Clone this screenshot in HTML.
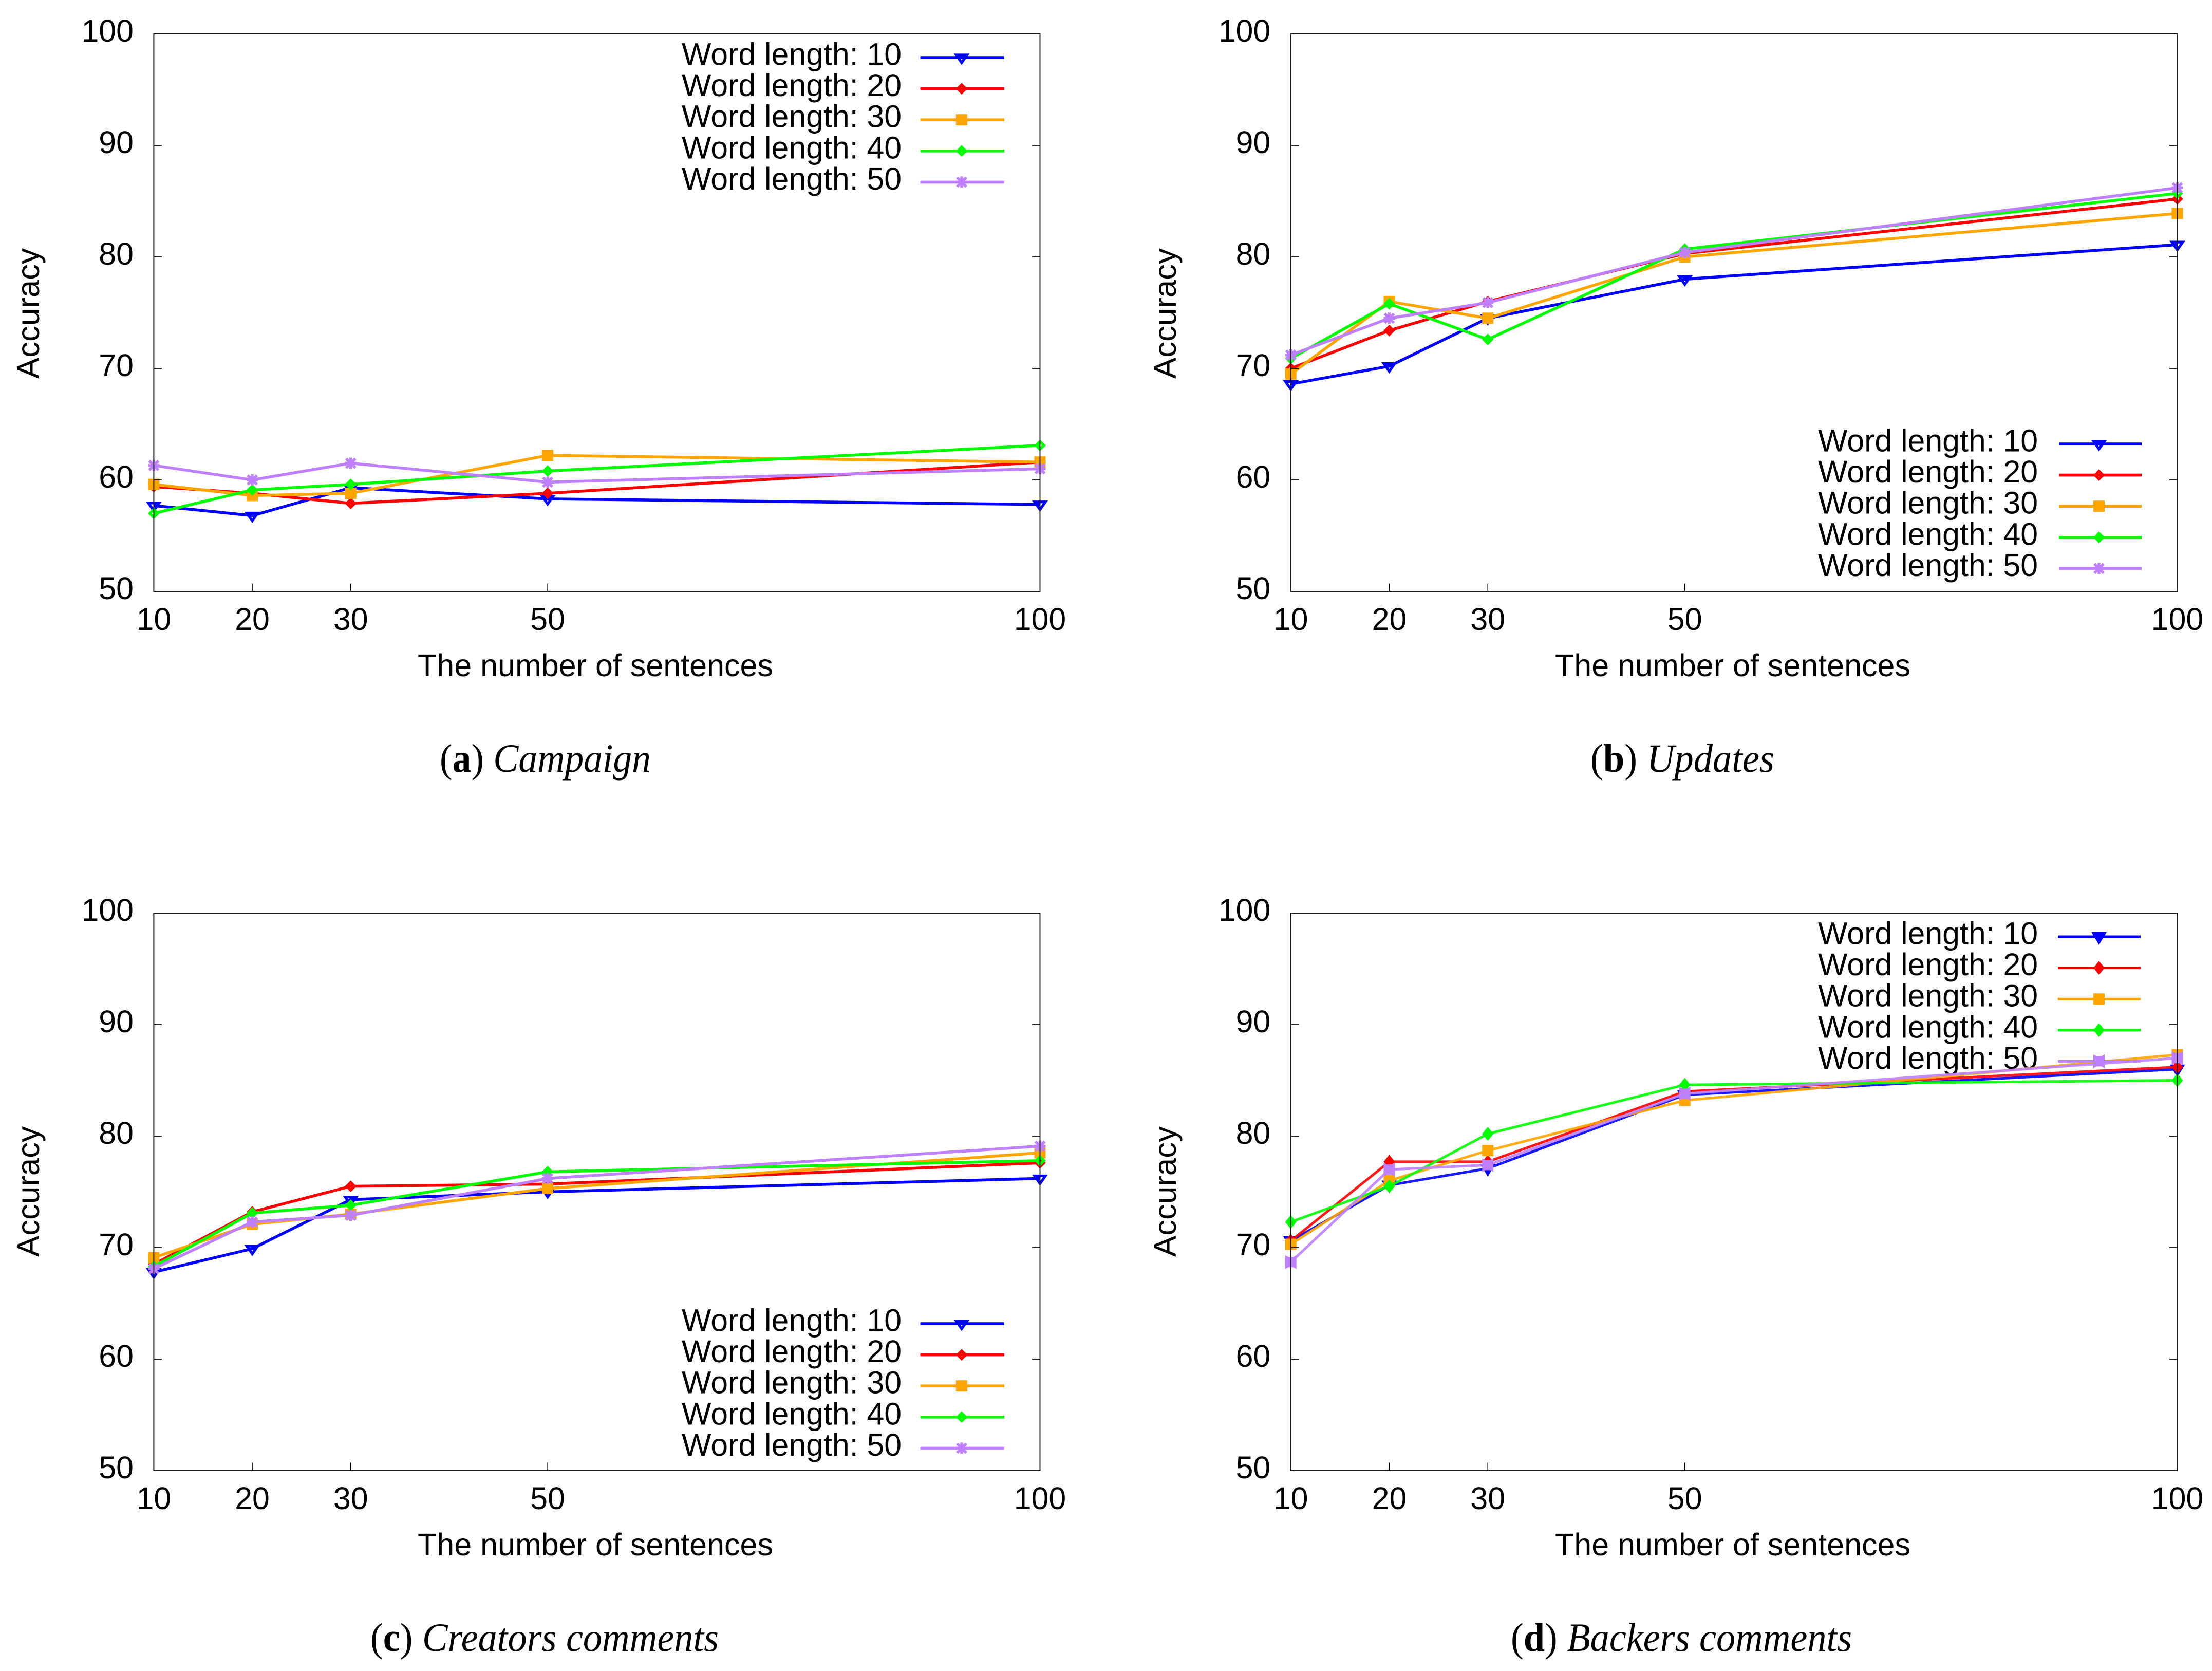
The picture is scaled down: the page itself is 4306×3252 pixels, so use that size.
<!DOCTYPE html>
<html lang="en">
<head>
<meta charset="utf-8">
<title>Accuracy by number of sentences and word length</title>
<style>
html,body{margin:0;padding:0;background:#fff;}
svg{display:block;}
text{font-family:"Liberation Sans",Arial,sans-serif;font-size:60.8px;fill:#000;}
.caption{font-family:"Liberation Serif","Times New Roman",serif;font-size:78px;}
</style>
</head>
<body>
<svg id="figure" xmlns="http://www.w3.org/2000/svg" width="4306" height="3252" viewBox="0 0 4306 3252">
  <rect x="0" y="0" width="4306" height="3252" fill="#ffffff"/>

  <g id="panel-a">
    <text transform="translate(76 610) rotate(-90)" text-anchor="middle" textLength="254" lengthAdjust="spacingAndGlyphs">Accuracy</text>
    <text x="813" y="1316" textLength="692" lengthAdjust="spacingAndGlyphs">The number of sentences</text>
    <text class="caption" x="856" y="1502" textLength="411" lengthAdjust="spacingAndGlyphs">(<tspan font-weight="bold">a</tspan>) <tspan font-style="italic">Campaign</tspan></text>
  </g>

  <g id="panel-b">
    <text transform="translate(2289 610) rotate(-90)" text-anchor="middle" textLength="254" lengthAdjust="spacingAndGlyphs">Accuracy</text>
    <text x="3027" y="1316" textLength="692" lengthAdjust="spacingAndGlyphs">The number of sentences</text>
    <text class="caption" x="3096" y="1502" textLength="358" lengthAdjust="spacingAndGlyphs">(<tspan font-weight="bold">b</tspan>) <tspan font-style="italic">Updates</tspan></text>
  </g>

  <g id="panel-c">
    <text transform="translate(76 2319) rotate(-90)" text-anchor="middle" textLength="254" lengthAdjust="spacingAndGlyphs">Accuracy</text>
    <text x="813" y="3027" textLength="692" lengthAdjust="spacingAndGlyphs">The number of sentences</text>
    <text class="caption" x="721" y="3213" textLength="678" lengthAdjust="spacingAndGlyphs">(<tspan font-weight="bold">c</tspan>) <tspan font-style="italic">Creators comments</tspan></text>
  </g>

  <g id="panel-d">
    <text transform="translate(2289 2319) rotate(-90)" text-anchor="middle" textLength="254" lengthAdjust="spacingAndGlyphs">Accuracy</text>
    <text x="3027" y="3027" textLength="692" lengthAdjust="spacingAndGlyphs">The number of sentences</text>
    <text class="caption" x="2941" y="3213" textLength="664" lengthAdjust="spacingAndGlyphs">(<tspan font-weight="bold">d</tspan>) <tspan font-style="italic">Backers comments</tspan></text>
  </g>
</svg>

<script>
/* ---------- chart data ---------- */
const sentenceCounts = [10, 20, 30, 50, 100];
const xTickLabels = ['10', '20', '30', '50', '100'];
const yTickValues = [50, 60, 70, 80, 90, 100];
const yTickLabels = ['50', '60', '70', '80', '90', '100'];
const seriesLabels = ['Word length: 10', 'Word length: 20', 'Word length: 30', 'Word length: 40', 'Word length: 50'];

const campaign10 = [57.7, 56.8, 59.3, 58.3, 57.8];
const campaign20 = [59.4, 58.8, 57.9, 58.8, 61.6];
const campaign30 = [59.6, 58.6, 58.8, 62.2, 61.6];
const campaign40 = [57.0, 59.1, 59.6, 60.8, 63.1];
const campaign50 = [61.3, 60.0, 61.5, 59.8, 61.0];

const updates10 = [68.6, 70.2, 74.5, 78.0, 81.1];
const updates20 = [70.0, 73.4, 76.0, 80.3, 85.2];
const updates30 = [69.5, 76.0, 74.5, 80.0, 83.9];
const updates40 = [70.9, 75.8, 72.6, 80.7, 85.7];
const updates50 = [71.2, 74.5, 75.9, 80.4, 86.2];

const creators10 = [67.8, 69.9, 74.3, 75.0, 76.2];
const creators20 = [68.5, 73.2, 75.5, 75.7, 77.6];
const creators30 = [69.1, 72.1, 73.0, 75.3, 78.5];
const creators40 = [68.3, 73.1, 73.8, 76.8, 77.8];
const creators50 = [68.1, 72.3, 72.9, 76.2, 79.1];

const backers10 = [70.6, 75.6, 77.1, 83.7, 86.0];
const backers20 = [70.6, 77.7, 77.7, 84.0, 86.2];
const backers30 = [70.3, 76.0, 78.7, 83.2, 87.3];
const backers40 = [72.3, 75.5, 80.2, 84.6, 85.0];
const backers50 = [68.7, 77.0, 77.4, 83.8, 87.0];

/* ---------- styling / layout (not data) ---------- */
const colors = ['#0000ff', '#ff0000', '#ffa500', '#00ff00', '#bf80ff'];
const shapes = ['triangle', 'diamond', 'square', 'diamond', 'star'];
const SVGNS = 'http://www.w3.org/2000/svg';

const panels = [
  {id: 'panel-a', name: 'campaign', left: 299.4, right: 2024.5, top: 66, bottom: 1151, legendTop: 112, legendTextX: 1327, legendX0: 1791.5, legendX1: 1955, legendMark: 1872, filled: false, lineWidth: 5.6,
   series: [campaign10, campaign20, campaign30, campaign40, campaign50]},
  {id: 'panel-b', name: 'updates', left: 2512.7, right: 4238.5, top: 66, bottom: 1151, legendTop: 864, legendTextX: 3539, legendX0: 4008, legendX1: 4169, legendMark: 4086, filled: false, lineWidth: 5.6,
   series: [updates10, updates20, updates30, updates40, updates50]},
  {id: 'panel-c', name: 'creators', left: 299.4, right: 2024.5, top: 1777, bottom: 2862, legendTop: 2576, legendTextX: 1327, legendX0: 1791.5, legendX1: 1955, legendMark: 1872, filled: false, lineWidth: 5.6,
   series: [creators10, creators20, creators30, creators40, creators50]},
  {id: 'panel-d', name: 'backers', left: 2512.7, right: 4238.5, top: 1777, bottom: 2862, legendTop: 1823, legendTextX: 3539, legendX0: 4006, legendX1: 4167, legendMark: 4086, filled: true, lineWidth: 5,
   series: [backers10, backers20, backers30, backers40, backers50]}
];

function mk(tag, attrs, parent) {
  const el = document.createElementNS(SVGNS, tag);
  for (const k in attrs) el.setAttribute(k, attrs[k]);
  parent.appendChild(el);
  return el;
}

/* axis functions */
function xScale(p, v) {
  const lo = sentenceCounts[0], hi = sentenceCounts[sentenceCounts.length - 1];
  return p.left + (v - lo) / (hi - lo) * (p.right - p.left);
}
function yScale(p, v) {
  const lo = yTickValues[0], hi = yTickValues[yTickValues.length - 1];
  return p.bottom - (v - lo) / (hi - lo) * (p.bottom - p.top);
}

function markerGeometry(shape, filled, cx, cy, color) {
  if (shape === 'square') {
    return {tag: 'rect', attrs: {x: cx - 11, y: cy - 11, width: 22, height: 22, fill: color}};
  }
  if (shape === 'diamond') {
    if (filled) {
      return {tag: 'polygon', attrs: {points: [cx, cy - 13.5, cx + 11, cy, cx, cy + 13.5, cx - 11, cy].join(' '), fill: color}};
    }
    return {tag: 'polygon', attrs: {points: [cx, cy - 7.5, cx + 7.5, cy, cx, cy + 7.5, cx - 7.5, cy].join(' '), fill: 'none', stroke: color, 'stroke-width': 5.5, 'stroke-linejoin': 'miter'}};
  }
  if (shape === 'triangle') {
    if (filled) {
      return {tag: 'polygon', attrs: {points: [cx - 15, cy - 9, cx + 15, cy - 9, cx, cy + 16].join(' '), fill: color}};
    }
    return {tag: 'polygon', attrs: {points: [cx - 10.5, cy - 5, cx + 10.5, cy - 5, cx, cy + 10].join(' '), fill: 'none', stroke: color, 'stroke-width': 5.2, 'stroke-linejoin': 'miter'}};
  }
  /* star */
  if (filled) {
    const d = 'M' + (cx - 11) + ' ' + (cy - 13.5) + 'L' + (cx - 5) + ' ' + (cy - 10) + 'L' + (cx + 5) + ' ' + (cy - 10) + 'L' + (cx + 11) + ' ' + (cy - 13.5) +
              'L' + (cx + 11) + ' ' + (cy + 13.5) + 'L' + (cx + 5) + ' ' + (cy + 10) + 'L' + (cx - 5) + ' ' + (cy + 10) + 'L' + (cx - 11) + ' ' + (cy + 13.5) + 'Z';
    return {tag: 'path', attrs: {d: d, fill: color}};
  }
  const a = 9;
  const d = 'M' + (cx - a) + ' ' + (cy - a) + 'L' + (cx + a) + ' ' + (cy + a) +
            'M' + (cx + a) + ' ' + (cy - a) + 'L' + (cx - a) + ' ' + (cy + a) +
            'M' + cx + ' ' + (cy - 11) + 'L' + cx + ' ' + (cy + 11) +
            'M' + (cx - 11) + ' ' + cy + 'L' + (cx + 11) + ' ' + cy;
  return {tag: 'path', attrs: {d: d, fill: 'none', stroke: color, 'stroke-width': 5.4}};
}

function drawPanel(p) {
  const g = document.getElementById(p.id);

  /* tick labels */
  yTickValues.forEach(function (v, i) {
    const t = mk('text', {x: p.left - 39.5, y: yScale(p, v) + 15, 'text-anchor': 'end'}, g);
    
    
    t.textContent = yTickLabels[i];
  });
  sentenceCounts.forEach(function (v, i) {
    const t = mk('text', {x: xScale(p, v), y: p.bottom + 75, 'text-anchor': 'middle'}, g);
    
    
    t.textContent = xTickLabels[i];
  });

  /* legend labels */
  seriesLabels.forEach(function (label, i) {
    const y = p.legendTop + i * 60.6;
    const t = mk('text', {x: p.legendTextX, y: y + 14.5}, g);
    
    
    t.textContent = label;
  });

  /* series, with its legend key */
  p.series.forEach(function (values, i) {
    const sg = mk('g', {}, g);
    
    

    const ly = p.legendTop + i * 60.6;
    const key = mk('line', {x1: p.legendX0, x2: p.legendX1, y1: ly, y2: ly, stroke: colors[i], 'stroke-width': p.lineWidth}, sg);
    
    
    const km = markerGeometry(shapes[i], p.filled, p.legendMark, ly, colors[i]);
    const keyMark = mk(km.tag, km.attrs, sg);
    
    

    const pts = values.map(function (v, j) {
      return xScale(p, sentenceCounts[j]) + ',' + yScale(p, v);
    }).join(' ');
    const line = mk('polyline', {points: pts, fill: 'none', stroke: colors[i], 'stroke-width': p.lineWidth, 'stroke-linejoin': 'round', 'stroke-opacity': p.filled ? 0.9 : 1}, sg);
    
    

    values.forEach(function (v, j) {
      const m = markerGeometry(shapes[i], p.filled, xScale(p, sentenceCounts[j]), yScale(p, v), colors[i]);
      const mark = mk(m.tag, m.attrs, sg);
      
      
    });
  });

  /* ticks and frame sit above the series */
  yTickValues.slice(1, -1).forEach(function (v) {
    const y = yScale(p, v);
    const a = mk('line', {x1: p.left, x2: p.left + 15.5, y1: y, y2: y, stroke: '#000', 'stroke-width': 1.7}, g);
    
    
    const b = mk('line', {x1: p.right - 15.5, x2: p.right, y1: y, y2: y, stroke: '#000', 'stroke-width': 1.7}, g);
    
    
  });
  sentenceCounts.slice(1, -1).forEach(function (v) {
    const x = xScale(p, v);
    const a = mk('line', {x1: x, x2: x, y1: p.bottom - 15.5, y2: p.bottom, stroke: '#000', 'stroke-width': 1.5}, g);
    
    
  });
  const frame = mk('rect', {x: p.left, y: p.top, width: p.right - p.left, height: p.bottom - p.top, fill: 'none', stroke: '#1a1a1a', 'stroke-width': 2}, g);
  
  
}

panels.forEach(drawPanel);
</script>
</body>
</html>
